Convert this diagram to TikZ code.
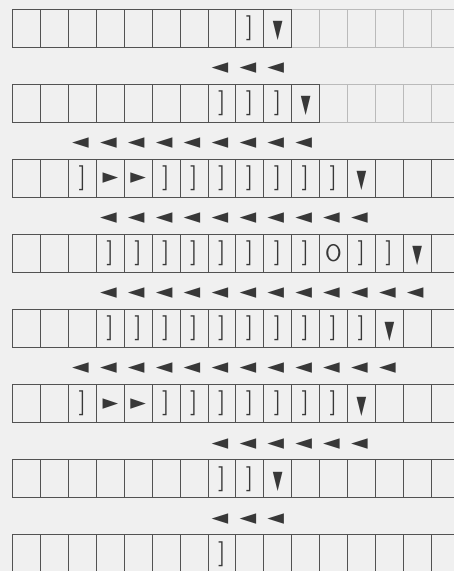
\documentclass[tikz,border=0pt]{standalone}
\usepackage{graphicx}
\usepackage{fontspec}
\newfontfamily\glyphfont{DejaVu Sans}
\usetikzlibrary{calc}
\definecolor{paper}{gray}{0.94}
\definecolor{ink}{gray}{0.32}
\definecolor{glyph}{gray}{0.22}
\tikzset{
    tape grid/.style  = {x=1pt, y=-1pt},
    cell/.style       = {draw=ink, line width=1pt, inner sep=0pt, outer sep=0pt,
                         minimum width=27.9pt, minimum height=38pt},
    faded cell/.style = {cell, draw=ink!40},
    sym/.style        = {text=glyph, inner sep=0pt, outer sep=0pt},
    move/.style       = {sym}
}
\newcommand{\tapebr}{\fontsize{25}{25}\selectfont\bfseries ]}
\newcommand{\tapehead}{\scalebox{1.05}[2.1]{\glyphfont\fontsize{12}{12}\selectfont ▼}}
\newcommand{\taperight}{\scalebox{1.45}[1.5]{\glyphfont\fontsize{14}{14}\selectfont ►}}
\newcommand{\tapeleft}{\scalebox{1.55}[1.5]{\glyphfont\fontsize{14}{14}\selectfont ◄}}
\newcommand{\tapezero}{\sffamily\fontsize{24}{24}\selectfont O}

\begin{document}
\begin{tikzpicture}[tape grid]
\fill[paper] (0,0) rectangle (454,571);
\useasboundingbox (0,0) rectangle (454,571);
\clip (0,0) rectangle (454,571);

% ================= Tape rows =================
% faded right end of the first two rows
\foreach \r/\a in {0/10, 1/11}
  \foreach \c in {\a,...,15}
    \node[faded cell] (c\r-\c) at (26.65+27.9*\c, 28+75.14*\r) {};
\foreach \r/\b in {0/9, 1/10, 2/15, 3/15, 4/15, 5/15, 6/15, 7/15}
  \foreach \c in {0,...,\b}
    \node[cell] (c\r-\c) at (26.65+27.9*\c, 28+75.14*\r) {};

% ================= Symbols on the tape =================
% runs of brackets
\foreach \r/\a/\b in {1/7/9, 2/5/11, 3/3/10, 4/3/12, 5/5/11, 6/7/8}
  \foreach \c in {\a,...,\b}
    \node[sym] (s\r-\c) at (c\r-\c) {\tapebr};
% single brackets
\foreach \r/\c in {0/8, 2/2, 3/12, 3/13, 5/2, 7/7}
  \node[sym] (s\r-\c) at (c\r-\c) {\tapebr};
% head marks
\foreach \r/\c in {0/9, 1/10, 2/12, 3/14, 4/13, 5/12, 6/9}
  \node[sym] (s\r-\c) at ($(c\r-\c)+(0,3)$) {\tapehead};
% right pointers
\foreach \r/\c in {2/3, 2/4, 5/3, 5/4}
  \node[sym] (s\r-\c) at (c\r-\c) {\taperight};
\node[sym] (s3-11) at (c3-11) {\tapezero};

% ================= Moves between rows =================
\foreach \r/\a/\b in {0/7/9, 1/2/10, 2/3/12, 3/3/14, 4/2/13, 5/7/12, 6/7/9}
  \foreach \c in {\a,...,\b}
    \node[move] (m\r-\c) at ($(c\r-\c.south)+(-2,21)$) {\tapeleft};

\end{tikzpicture}
\end{document}
